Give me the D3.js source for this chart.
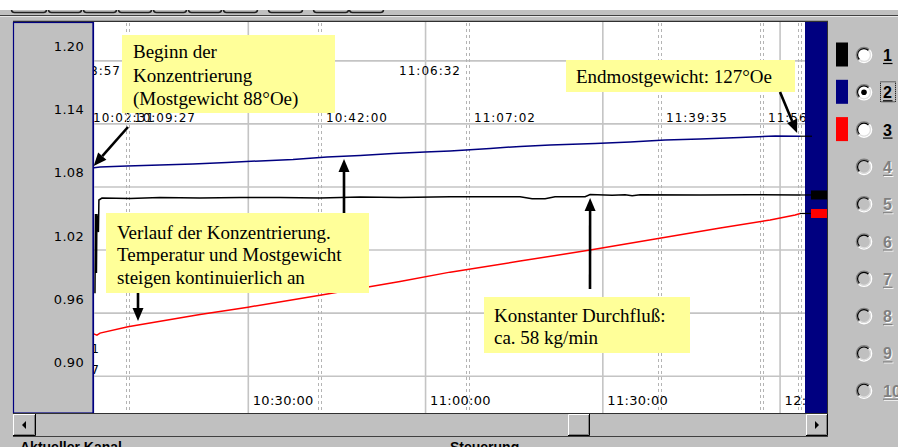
<!DOCTYPE html>
<html><head><meta charset="utf-8">
<script src="https://cdn.jsdelivr.net/npm/d3@7"></script>
<style>
html,body{margin:0;padding:0;background:#c0c0c0;overflow:hidden}
svg{display:block}
</style></head><body>
<svg id="c" width="898" height="447"></svg>
<script>
// ---------- data ----------
const yTicks = [1.20, 1.14, 1.08, 1.02, 0.96, 0.90];
const xTicks = ["10:30:00", "11:00:00", "11:30:00", "12:00:00"];
const xDomain = ["10:03:43", "12:04:13"];
const yDomain = [0.865, 1.236];

// channel 1 (black) – Durchfluß
const blackTimes = ["10:04:03","10:04:08","10:04:18","10:04:23","10:04:38","10:04:43","10:05:14","10:09:58","10:15:03","10:21:49","10:28:36","10:35:22","10:42:08","10:48:55","10:55:41","11:04:09","11:16:00","11:18:02","11:20:14","11:21:55","11:27:00","11:27:51","11:31:34","11:33:46","11:34:58","11:36:19","11:46:28","11:54:56","12:03:24"];
const blackValues = [0.9790,1.0543,0.9981,1.0543,1.0371,1.0676,1.0695,1.0690,1.0700,1.0695,1.0700,1.0700,1.0695,1.0705,1.0700,1.0708,1.0707,1.0689,1.0689,1.0707,1.0707,1.0728,1.0721,1.0726,1.0716,1.0726,1.0724,1.0726,1.0724];

// channel 2 (blue) – Mostgewicht
const blueTimes = ["10:03:43","10:04:54","10:09:28","10:15:03","10:20:38","10:26:24","10:31:59","10:37:34","10:43:19","10:48:55","10:54:30","10:59:55","11:04:09","11:10:55","11:16:00","11:21:05","11:28:42","11:34:37","11:40:33","11:46:28","11:53:14","11:59:10","12:03:24"];
const blueValues = [1.0981,1.0990,1.1000,1.1010,1.1019,1.1033,1.1048,1.1062,1.1086,1.1100,1.1119,1.1133,1.1143,1.1167,1.1186,1.1200,1.1214,1.1229,1.1248,1.1257,1.1271,1.1286,1.1283];

// channel 3 (red) – Temperatur
const redTimes = ["10:03:43","10:04:23","10:04:54","10:09:38","10:21:49","10:29:57","10:42:08","10:55:41","11:04:09","11:16:00","11:27:51","11:39:52","11:49:52","11:58:19","12:02:33","12:03:24"];
const redValues = [0.9405,0.9390,0.9410,0.9471,0.9586,0.9657,0.9771,0.9900,0.9990,1.0095,1.0200,1.0314,1.0410,1.0486,1.0533,1.0548];

// event markers (start / end time of each marker pair)
const eventStarts = ["10:02:01","10:08:57","10:41:30","11:06:32","11:39:05","11:56:15","12:02:46"];
const eventEnds   = ["10:02:31","10:09:27","10:42:00","11:07:02","11:39:35","11:56:45","12:03:16"];
const edgeLabels  = ["10:03:41","10:03:47"];

const channels = ["1","2","3","4","5","6","7","8","9","10"];
const channelColors = ["#000000","#000080","#ff0000",null,null,null,null,null,null,null];
const selectedChannel = "2";

// annotations
const notes = [
  {lines:["Beginn der","Konzentrierung","(Mostgewicht 88°Oe)"]},
  {lines:["Endmostgewicht: 127°Oe"]},
  {lines:["Verlauf der Konzentrierung.","Temperatur und Mostgewicht","steigen kontinuierlich an"]},
  {lines:["Konstanter Durchfluß:","ca. 58 kg/min"]}
];
const arrowTipTimes  = ["10:03:50","12:02:53","10:11:20","10:46:12","11:27:51"];
const arrowTipValues = [1.100,1.1314,0.9524,1.1067,1.0695];

// ---------- layout ----------
const P = {l:93, r:805, t:23, b:413};
const noteBoxes = [
  {x:122,y:35,w:213,h:78,tx:133,ty:58,lh:23.5},
  {x:566,y:60,w:229,h:32,tx:576,ty:83,lh:0},
  {x:106,y:213,w:263,h:80,tx:117,ty:239,lh:22.4},
  {x:484,y:297,w:206,h:56,tx:494,ty:322,lh:22.3}
];
const arrowTails = [[128,127],[780,92],[138,293],[344,213],[590,289]];

const parse = d3.timeParse("%H:%M:%S");
const x = d3.scaleTime().domain(xDomain.map(parse)).range([P.l, P.r]);
const y = d3.scaleLinear().domain(yDomain).range([P.b, P.t]);

const svg = d3.select("#c");
const SANS = "'DejaVu Sans', sans-serif";

// window background
svg.append("rect").attr("width",898).attr("height",447).attr("fill","#c0c0c0");
svg.append("rect").attr("width",898).attr("height",10).attr("fill","#ffffff");
// tab bottoms
const tabs = [[11,47],[48,82],[83,117],[118,152],[153,187],[188,222],[223,258],[268,303],[313,349],[349,384]];
svg.append("clipPath").attr("id","tabclip").append("rect").attr("x",0).attr("y",10).attr("width",898).attr("height",10);
svg.append("g").attr("clip-path","url(#tabclip)").selectAll("rect").data(tabs).join("rect")
  .attr("x",d=>d[0]+0.5).attr("y",0).attr("width",d=>d[1]-d[0]-1).attr("height",12.5).attr("rx",3)
  .attr("fill","#c0c0c0").attr("stroke","#202020").attr("stroke-width",1.5);
svg.append("line").attr("x1",0).attr("x2",898).attr("y1",15.5).attr("y2",15.5).attr("stroke","#404040");
svg.append("line").attr("x1",0).attr("x2",898).attr("y1",16.5).attr("y2",16.5).attr("stroke","#e8e8e8");
svg.append("line").attr("x1",13).attr("x2",828).attr("y1",21.5).attr("y2",21.5).attr("stroke","#303030").attr("stroke-width",1.5);

// left axis panel
svg.append("rect").attr("x",13.5).attr("y",22.5).attr("width",79.5).attr("height",P.b-22.5)
  .attr("fill","#c0c0c0").attr("stroke","#000080").attr("stroke-width",1.2);

// plot area
svg.append("rect").attr("x",P.l).attr("y",P.t-1).attr("width",P.r-P.l).attr("height",P.b-P.t+1).attr("fill","#ffffff");
svg.append("line").attr("x1",P.l+0.5).attr("x2",P.l+0.5).attr("y1",P.t-1).attr("y2",P.b).attr("stroke","#000080").attr("stroke-width",1.2);

svg.append("clipPath").attr("id","plotclip").append("rect")
  .attr("x",P.l+1).attr("y",P.t-1).attr("width",P.r-P.l-1).attr("height",P.b-P.t+1);
const plot = svg.append("g").attr("clip-path","url(#plotclip)");

// gridlines
plot.append("g").selectAll("line").data(yTicks).join("line")
  .attr("x1",P.l).attr("x2",P.r).attr("y1",d=>y(d)).attr("y2",d=>y(d))
  .attr("stroke","#c4c4c4").attr("stroke-width",1.6);
plot.append("g").selectAll("line").data(xTicks).join("line")
  .attr("x1",d=>x(parse(d))).attr("x2",d=>x(parse(d))).attr("y1",P.t-1).attr("y2",P.b)
  .attr("stroke","#c4c4c4").attr("stroke-width",1.6);

// event marker pairs
const evG = plot.append("g");
eventEnds.forEach((e,i)=>{
  const ex = Math.round(x(parse(e)));
  [ex-0.5, ex+2.5].forEach(lx=>{
    evG.append("line").attr("x1",lx).attr("x2",lx).attr("y1",P.t).attr("y2",P.b)
      .attr("stroke","#b4b4b4").attr("stroke-width",1).attr("stroke-dasharray","3,3");
  });
  evG.append("text").attr("x",ex-6).attr("y",75).attr("text-anchor","end")
    .attr("font-family",SANS).attr("font-size",12).attr("letter-spacing","1px").text(eventStarts[i]);
  evG.append("text").attr("x",ex+7).attr("y",122)
    .attr("font-family",SANS).attr("font-size",12).attr("letter-spacing","1px").text(e);
});
evG.selectAll("text.edge").data(edgeLabels).join("text").attr("class","edge")
  .attr("x",100).attr("y",(d,i)=>353+i*21).attr("text-anchor","end")
  .attr("font-family",SANS).attr("font-size",12).attr("letter-spacing","1px").text(d=>d);

// x axis labels
const xAxis = d3.axisBottom(x).tickValues(xTicks.map(parse)).tickSize(0).tickFormat(d3.timeFormat("%H:%M:%S"));
plot.append("g").attr("transform","translate(0,405)").call(xAxis)
  .call(g=>g.select(".domain").remove())
  .call(g=>g.selectAll("text").attr("y",0).attr("dy",0).attr("x",4).attr("text-anchor","start")
    .attr("font-family",SANS).attr("font-size",13).attr("letter-spacing","0.3px").attr("fill","#000"));

// data lines
const line = d3.line().x(d=>x(d.t)).y(d=>y(d.v));
const series = [
  {times:blackTimes, values:blackValues, color:"#000000"},
  {times:redTimes, values:redValues, color:"#ff0000"},
  {times:blueTimes, values:blueValues, color:"#000080"}
];
series.forEach(s=>{
  const data = s.times.map((t,i)=>({t:parse(t), v:s.values[i]}));
  plot.append("path").datum(data).attr("d",line).attr("fill","none")
    .attr("stroke",s.color).attr("stroke-width",1.5);
});

// y axis labels
const yAxis = d3.axisLeft(y).tickValues(yTicks).tickSize(0).tickPadding(0).tickFormat(d3.format(".2f"));
svg.append("g").attr("transform","translate(84,0)").call(yAxis)
  .call(g=>g.select(".domain").remove())
  .call(g=>g.selectAll("text").attr("dy",-10).attr("font-family",SANS).attr("font-size",13)
    .attr("letter-spacing","0.3px").attr("fill","#000"));

// annotation boxes
notes.forEach((n,i)=>{
  const b = noteBoxes[i];
  svg.append("rect").attr("x",b.x).attr("y",b.y).attr("width",b.w).attr("height",b.h).attr("fill","#ffff99");
  n.lines.forEach((ln,j)=>{
    svg.append("text").attr("x",b.tx).attr("y",b.ty+j*b.lh)
      .attr("font-family","'Liberation Serif','Times New Roman',serif").attr("font-size",19)
      .attr("fill","#000").text(ln);
  });
});

// arrows
arrowTails.forEach((tail,i)=>{
  const tip = [x(parse(arrowTipTimes[i])), y(arrowTipValues[i])];
  const dx = tip[0]-tail[0], dy = tip[1]-tail[1], L = Math.hypot(dx,dy);
  const ux = dx/L, uy = dy/L, hl = 13, hw = 5.5;
  const bx = tip[0]-ux*hl, by = tip[1]-uy*hl;
  svg.append("line").attr("x1",tail[0]).attr("y1",tail[1]).attr("x2",bx).attr("y2",by)
    .attr("stroke","#000").attr("stroke-width",2.6);
  svg.append("path").attr("d",`M${tip[0]},${tip[1]}L${bx-uy*hw},${by+ux*hw}L${bx+uy*hw},${by-ux*hw}Z`).attr("fill","#000");
});

// right blue bar with current-value markers
svg.append("rect").attr("x",P.r).attr("y",P.t-1).attr("width",22).attr("height",P.b-P.t+1).attr("fill","#000080");
const lastB = y(blackValues[blackValues.length-1]);
const lastR = y(redValues[redValues.length-1]);
const lastU = y(blueValues[blueValues.length-1]);
[lastU,lastB,lastR].forEach(v=>{
  svg.append("line").attr("x1",800).attr("x2",812).attr("y1",v).attr("y2",v).attr("stroke","#000").attr("stroke-width",1.2);
});
svg.append("rect").attr("x",811).attr("y",lastB-4.5).attr("width",16).attr("height",9).attr("fill","#000");
svg.append("rect").attr("x",811).attr("y",lastR-4.5).attr("width",16).attr("height",9).attr("fill","#ff0000");
svg.append("line").attr("x1",827.5).attr("x2",827.5).attr("y1",21).attr("y2",437).attr("stroke","#303030");
svg.append("line").attr("x1",13).attr("x2",828).attr("y1",P.b+0.5).attr("y2",P.b+0.5).attr("stroke","#303030").attr("stroke-width",1.2);

// scrollbar
function raised(x0,y0,w,h){
  const g = svg.append("g");
  g.append("rect").attr("x",x0).attr("y",y0).attr("width",w).attr("height",h).attr("fill","#c0c0c0");
  g.append("path").attr("d",`M${x0+0.5},${y0+h}V${y0+0.5}H${x0+w}`).attr("stroke","#ffffff").attr("fill","none");
  g.append("path").attr("d",`M${x0},${y0+h-0.5}H${x0+w-0.5}V${y0}`).attr("stroke","#000").attr("fill","none");
  g.append("path").attr("d",`M${x0+1},${y0+h-1.5}H${x0+w-1.5}V${y0+1}`).attr("stroke","#808080").attr("fill","none");
}
raised(13,414,23,22);
raised(568,414,22,22);
raised(806,414,22,22);
svg.append("path").attr("d","M22,425L26,421V429Z").attr("fill","#000");
svg.append("path").attr("d","M819,425L815,421V429Z").attr("fill","#000");
svg.append("line").attr("x1",13).attr("x2",828).attr("y1",436.5).attr("y2",436.5).attr("stroke","#404040");

// bottom captions (cut off)
svg.append("text").attr("x",20).attr("y",452).attr("font-family","'Liberation Sans',Arial,sans-serif")
  .attr("font-weight","bold").attr("font-size",14).text("Aktueller Kanal");
svg.append("text").attr("x",450).attr("y",452).attr("font-family","'Liberation Sans',Arial,sans-serif")
  .attr("font-weight","bold").attr("font-size",14).text("Steuerung");

// legend / channel selector
const leg = svg.append("g");
channels.forEach((c,i)=>{
  const cy = 55 + i*37.3;
  const enabled = channelColors[i] !== null;
  if (enabled) leg.append("rect").attr("x",836).attr("y",cy-12.5).attr("width",12).attr("height",24).attr("fill",channelColors[i]);
  const rg = leg.append("g").attr("transform",`translate(864,${cy})`);
  rg.append("circle").attr("r",7).attr("fill",enabled?"#ffffff":"#c0c0c0");
  const arc = (r0,r1,a0,a1)=>d3.arc()({innerRadius:r0,outerRadius:r1,startAngle:a0,endAngle:a1});
  rg.append("path").attr("d",arc(7,8.3,-3*Math.PI/4,Math.PI/4)).attr("fill","#808080");
  rg.append("path").attr("d",arc(7,8.3,Math.PI/4,5*Math.PI/4)).attr("fill","#ffffff");
  rg.append("path").attr("d",arc(5.8,7,-3*Math.PI/4,Math.PI/4)).attr("fill","#000000");
  rg.append("path").attr("d",arc(5.8,7,Math.PI/4,5*Math.PI/4)).attr("fill","#dfdfdf");
  if (c === selectedChannel) rg.append("circle").attr("r",2.8).attr("fill","#000");
  const tx = 883, ty = cy+6;
  if (!enabled) {
    leg.append("text").attr("x",tx+1).attr("y",ty+1).attr("font-family","'Liberation Sans',Arial,sans-serif")
      .attr("font-weight","bold").attr("font-size",16).attr("fill","#ffffff").text(c);
    leg.append("line").attr("x1",tx+1).attr("x2",tx+1+9.5*c.length).attr("y1",ty+3.5).attr("y2",ty+3.5).attr("stroke","#ffffff");
  }
  leg.append("text").attr("x",tx).attr("y",ty).attr("font-family","'Liberation Sans',Arial,sans-serif")
    .attr("font-weight","bold").attr("font-size",16).attr("fill",enabled?"#000":"#808080").text(c);
  leg.append("line").attr("x1",tx).attr("x2",tx+9.5*c.length).attr("y1",ty+2.5).attr("y2",ty+2.5)
    .attr("stroke",enabled?"#000":"#808080").attr("stroke-width",1.2);
  if (c === selectedChannel) leg.append("rect").attr("x",880.5).attr("y",cy-10.5).attr("width",15).attr("height",20)
    .attr("fill","none").attr("stroke","#000").attr("stroke-dasharray","1,1");
});
</script>
</body></html>
